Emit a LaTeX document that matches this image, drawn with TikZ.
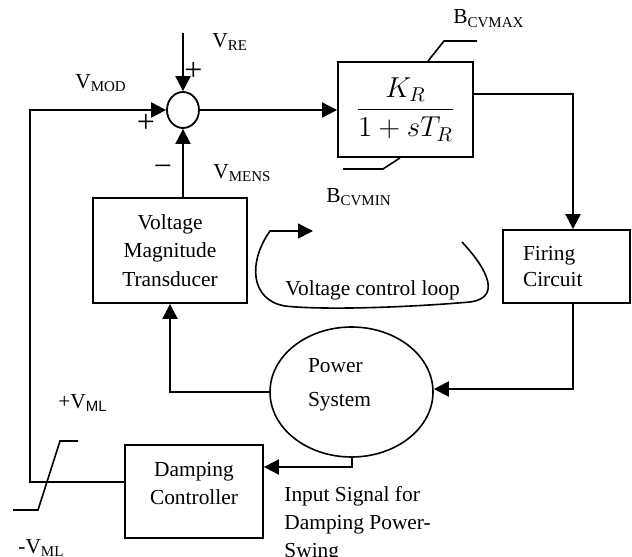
\documentclass[tikz,border=0pt]{standalone}
\usepackage{fontspec}
\setmainfont{Liberation Serif}
\newfontfamily\arialf{Liberation Sans}
\usetikzlibrary{arrows.meta,shapes.geometric,calc}
\begin{document}
\begin{tikzpicture}[x=0.5pt,y=-0.5pt,
  font=\fontsize{10.7}{14}\selectfont,
  blk/.style={draw, line width=0.9pt, inner sep=0pt, align=center},
  arr/.style={line width=1pt, -{Triangle[length=7.5pt,width=7.5pt]}},
  wire/.style={line width=1pt},
  thin/.style={line width=0.8pt},
  lbl/.style={inner sep=0pt},
  sgn/.style={inner sep=0pt, font=\fontsize{16}{16}\selectfont}]
\useasboundingbox (0,0) rectangle (632,557);

% blocks
\node[blk, ellipse, minimum width=16pt, minimum height=18pt] (sum) at (183,110) {};
\node[blk, minimum width=67.5pt, minimum height=47.5pt] (kr) at (405.5,109.5)
  {\Large$\displaystyle\frac{K_R}{1+sT_R}$};
\node[blk, align=left, text width=43.5pt, minimum width=63.5pt, minimum height=36.5pt,
  font=\fontsize{10.7}{13}\selectfont] (fc) at (566.5,266.5) {Firing\\Circuit};
\node[blk, minimum width=77pt, minimum height=52.5pt,
  font=\fontsize{10.7}{14.25}\selectfont] (vmt) at (170,250.5) {Voltage\\Magnitude\\Transducer};
\node[blk, ellipse, line width=0.8pt, minimum width=81.5pt, minimum height=65pt] (ps) at (351.5,392) {};
\node[lbl, align=left, text width=43.5pt, font=\fontsize{10.7}{17}\selectfont] (pstext) at (351.5,385) {Power\\System};
\node[blk, minimum width=69pt, minimum height=46.5pt] (dc) at (194,491.5) {};
\node[lbl, align=center, font=\fontsize{10.7}{14}\selectfont] (dctext) at (194,484) {Damping\\Controller};

% connectors
\coordinate (vretop) at (183,33);
\coordinate (lft) at (30,110);
\draw[arr] (vretop) -- (sum.north);
\draw[arr] (sum.east) -- (sum.east -| kr.west);
\draw[arr] (kr.east |- 0,94) -| ([xshift=3.25pt]fc.north);
\draw[arr] ([xshift=3.25pt]fc.south) |- (ps.east |- 0,389);
\draw[arr] (ps.west) -| (vmt.south);
\draw[arr] (vmt.north -| sum.south) -- (sum.south);
\draw[arr] (ps.south) -- (ps.south |- 0,467) -- (dc.east |- 0,467);
\draw[arr] (dc.west |- 0,482) -| (lft) -- (sum.west);

% limits on the lag block
\coordinate (cvmax1) at (444,41);
\coordinate (cvmax2) at (477,41);
\coordinate (cvmin1) at (383,169);
\coordinate (cvmin2) at (343,169);
\draw[thin] (kr.north -| 428,0) -- (cvmax1) -- (cvmax2);
\draw[thin] (kr.south -| 400,0) -- (cvmin1) -- (cvmin2);

% limiter symbol
\coordinate (lim1) at (13,510);
\coordinate (lim2) at (38,510);
\coordinate (lim3) at (60,441);
\coordinate (lim4) at (78,441);
\draw[thin] (lim1) -- (lim2) -- (lim3) -- (lim4);

% voltage control loop curve
\coordinate (lp0) at (462,242);
\coordinate (lp1) at (270,231);
\coordinate (lp2) at (313,231);
\draw[thin, -{Triangle[length=7.5pt,width=7.5pt]}] (lp0) .. controls (490,272) and (500,298) .. (470,302)
  .. controls (400,308) and (320,310) .. (285,306)
  .. controls (250,300) and (248,262) .. (lp1) -- (lp2);

% labels
\node[lbl, anchor=base west] (lvre) at (212,47) {V\textsubscript{RE}};
\node[lbl, anchor=base west] (lvmod) at (75,88) {V\textsubscript{MOD}};
\node[lbl, anchor=base west] (lvmens) at (213,178) {V\textsubscript{MENS}};
\node[lbl, anchor=base west] (lmax) at (453,24) {B\textsubscript{CVMAX}};
\node[lbl, anchor=base west] (lmin) at (326,202) {B\textsubscript{CVMIN}};
\node[lbl, anchor=base west] (lpml) at (58,408) {+V\textsubscript{\arialf ML}};
\node[lbl, anchor=base west] (lmml) at (18,553) {-V\textsubscript{ML}};
\node[sgn] (p1) at (193.5,71.5) {+};
\node[sgn] (p2) at (146,123) {+};
\node[sgn] (m1) at (163,171) {−};
\node[lbl, anchor=base west] (loop) at (285,295) {Voltage control loop};
\node[lbl, anchor=north west, align=left, font=\fontsize{10.7}{14}\selectfont] (inp) at (284,486)
  {Input Signal for\\Damping Power-\\Swing};
\end{tikzpicture}
\end{document}
